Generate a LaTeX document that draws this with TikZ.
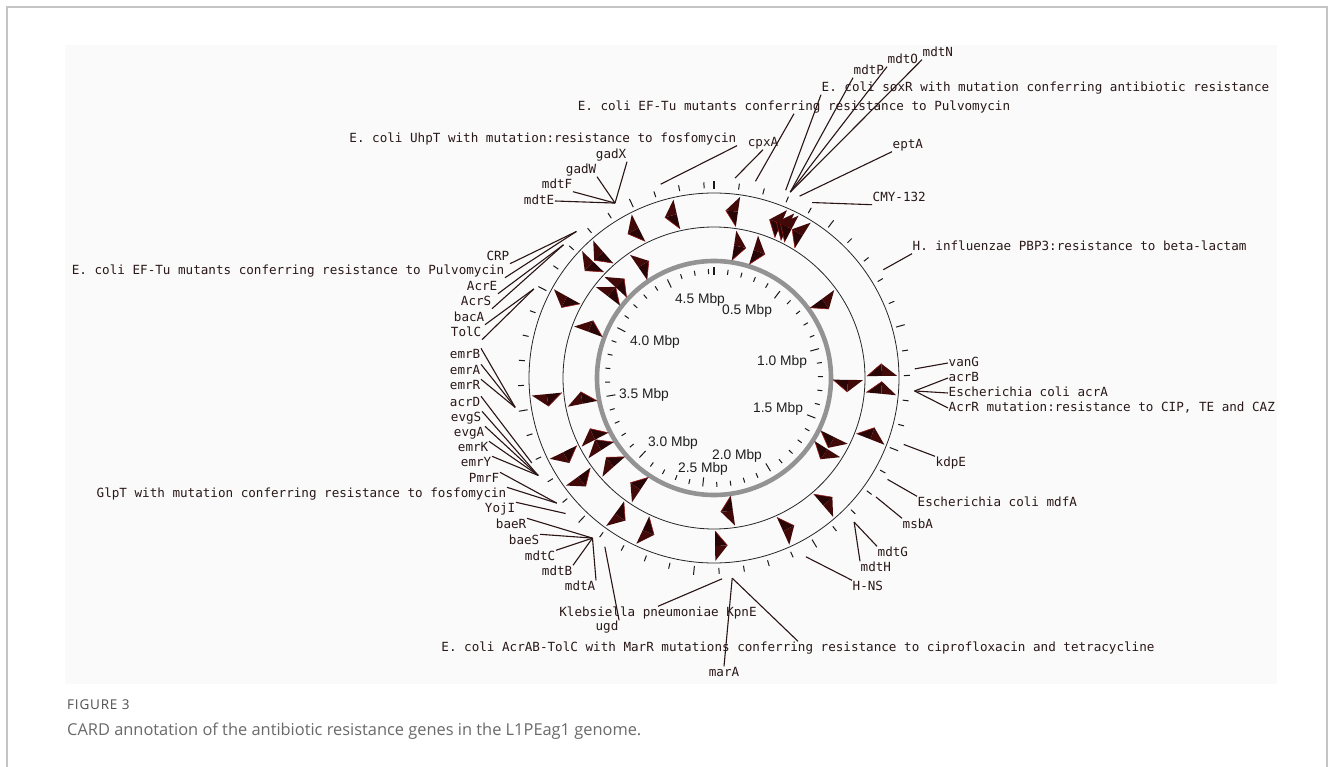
\documentclass[tikz,border=0pt]{standalone}
\usepackage{fontspec}
\newfontfamily\labmono{DejaVu Sans Mono}
\newfontfamily\helv{Liberation Sans}
\newfontfamily\capsans{Open Sans}
\newfontfamily\capsansls[LetterSpace=6]{Open Sans}
\definecolor{labc}{HTML}{2A1818}
\definecolor{leadc}{HTML}{2A1414}
\definecolor{mkdark}{HTML}{2A0505}
\definecolor{mkmid}{HTML}{420909}
\definecolor{mkred}{HTML}{9A1A1A}
\definecolor{bgc}{HTML}{FAFAFA}
\definecolor{framec}{HTML}{C4C4C4}
\definecolor{capc}{HTML}{6A6A6A}
\definecolor{figc}{HTML}{505050}
\definecolor{ringgray}{HTML}{939393}
\newcommand\mkout[1]{%
  \fill[mkdark] (#1-88:153) -- (#1-88:168) -- (#1-92.2:168) -- cycle;
  \fill[mkmid] (#1-88:168) -- (#1-88:183) -- (#1-92.2:168) -- cycle;
  \draw[mkred, line width=0.6pt] (#1-88:153) -- (#1-92.2:168);}
\newcommand\mkin[1]{%
  \fill[mkdark] (#1-92.6:119) -- (#1-92.6:134) -- (#1-87.4:134) -- cycle;
  \fill[mkmid] (#1-92.6:134) -- (#1-92.6:149) -- (#1-87.4:134) -- cycle;
  \draw[mkred, line width=0.6pt] (#1-92.6:119) -- (#1-87.4:134);}
\begin{document}
\begin{tikzpicture}[x=1pt,y=-1pt,
  lab/.style={font=\labmono\fontsize{12.6}{14}\selectfont, text=labc, inner sep=0.5pt, text height=9.5pt, text depth=2.5pt},
  lead/.style={draw=leadc, line width=1.1pt},
  mbp/.style={font=\helv\fontsize{13.8}{15}\selectfont, text=black!88, inner sep=0pt},
  tick/.style={draw=black!90, line width=1pt},
  ring/.style={draw=black!85, line width=0.8pt}]
\useasboundingbox (0,0) rectangle (1333,767);
\fill[white] (0,0) rectangle (1333,767);
\draw[framec, line width=1.2pt] (7,800) -- (7,7) -- (1327,7) -- (1327,800);
\fill[bgc] (65,45) rectangle (1277,684);
\coordinate (C) at (714,378);
% rings, ticks and gene markers
\begin{scope}[shift={(714,378)}]
  \draw[ringgray, line width=4.6pt] (0,0) circle[radius=117];
  \draw[ring] (0,0) circle[radius=151];
  \draw[ring] (0,0) circle[radius=185];
  \foreach \i in {1,...,48} {
    \pgfmathsetmacro\a{\i*7.438-90}
    \pgfmathtruncatemacro\m{mod(\i,5)}
    \ifnum\m=0
      \draw[tick] (\a:100) -- (\a:109);
      \draw[tick] (\a:189) -- (\a:198);
    \else
      \draw[tick] (\a:104) -- (\a:109);
      \draw[tick] (\a:190) -- (\a:196);
    \fi
  }
  \draw[tick, line width=2.4pt] (-90:103) -- (-90:111);
  \draw[tick, line width=2.4pt] (-90:189) -- (-90:197);
  \foreach \t in {-14.8,6.2,21.5,24,25.5,29.9,-28.7,-43.3,-48.1,-63,-97.5,-118.2,-128,-145.9,-156.9,177.6,153.7,137.4,109.4,87.3,93.4} {\mkout{\t}}
  \foreach \t in {11.2,19.8,-31.7,-44.7,-49.8,-67.2,-98.5,-114.8,-120,-128.9,-144,174.5,56.4,93.4,118.8,124.7} {\mkin{\t}}
\end{scope}
% scale labels
\node[mbp] (s45) at (700,300) {4.5 Mbp};
\node[mbp] (s05) at (747,311) {0.5 Mbp};
\node[mbp] (s40) at (655,342) {4.0 Mbp};
\node[mbp] (s10) at (782,362) {1.0 Mbp};
\node[mbp] (s35) at (644,395) {3.5 Mbp};
\node[mbp] (s15) at (778,409) {1.5 Mbp};
\node[mbp] (s30) at (673,443) {3.0 Mbp};
\node[mbp] (s20) at (737,456) {2.0 Mbp};
\node[mbp] (s25) at (703,469) {2.5 Mbp};
% ring end points of leaders
\path (C) ++(-2.6:201) coordinate (rVan);
\path (C) ++(3.7:201) coordinate (rAcr);
\path (C) ++(19.3:201) coordinate (rKdp);
\path (C) ++(30.3:201) coordinate (rMdf);
\path (C) ++(36.3:201) coordinate (rMsb);
\path (C) ++(45.8:201) coordinate (rMdtGH);
\path (C) ++(62.8:201) coordinate (rHNS);
\path (C) ++(84.8:201) coordinate (rMar);
\path (C) ++(87.7:201) coordinate (rKpn);
\path (C) ++(-237.1:201) coordinate (rUgd);
\path (C) ++(-232.8:201) coordinate (rBae);
\path (C) ++(-222.4:201) coordinate (rYoj);
\path (C) ++(-218.5:201) coordinate (rGlp);
\path (C) ++(-209:201) coordinate (rEvg);
\path (C) ++(-205:201) coordinate (rAcrD);
\path (C) ++(-188.4:201) coordinate (rEmr);
\path (C) ++(-153.7:201) coordinate (rBac);
\path (C) ++(-138.5:201) coordinate (rAcrES);
\path (C) ++(-133.2:201) coordinate (rCrp);
\path (C) ++(-119.5:201) coordinate (rGad);
\path (C) ++(-105.4:201) coordinate (rUhp);
\path (C) ++(-84:201) coordinate (rCpx);
\path (C) ++(-78.1:201) coordinate (rEF);
\path (C) ++(-69.1:201) coordinate (rSox);
\path (C) ++(-67.7:201) coordinate (rNOP);
\path (C) ++(-64.8:201) coordinate (rEpt);
\path (C) ++(-60.8:201) coordinate (rCmy);
\path (C) ++(-32.6:201) coordinate (rHinf);
% right labels
\node[lab, anchor=west] (vanG) at (948,363) {vanG};
\node[lab, anchor=west] (acrB) at (948,378) {acrB};
\node[lab, anchor=west] (acrA) at (948,393) {Escherichia coli acrA};
\node[lab, anchor=west] (acrR) at (948,408) {AcrR mutation:resistance to CIP, TE and CAZ};
\node[lab, anchor=west] (kdpE) at (935,463) {kdpE};
\node[lab, anchor=west] (mdfA) at (917,503) {Escherichia coli mdfA};
\node[lab, anchor=west] (msbA) at (902,525) {msbA};
\node[lab, anchor=west] (mdtG) at (877,553) {mdtG};
\node[lab, anchor=west] (mdtH) at (860,568) {mdtH};
\node[lab, anchor=west] (hns) at (852,587) {H-NS};
\draw[lead] (vanG.west) -- (rVan);
\draw[lead] (acrB.west) -- (rAcr);
\draw[lead] (acrA.west) -- (rAcr);
\draw[lead] (acrR.west) -- (rAcr);
\draw[lead] (kdpE.north west) -- (rKdp);
\draw[lead] (mdfA.north west) -- (rMdf);
\draw[lead] (msbA.north west) -- (rMsb);
\draw[lead] (mdtG.north west) -- (rMdtGH);
\draw[lead] (mdtH.north west) -- (rMdtGH);
\draw[lead] (hns.north west) -- (rHNS);
% bottom labels
\node[lab] (marA) at (724,673) {marA};
\node[lab] (acrAB) at (798,648) {E. coli AcrAB-TolC with MarR mutations conferring resistance to ciprofloxacin and tetracycline};
\node[lab] (kpnE) at (658,613) {Klebsiella pneumoniae KpnE};
\node[lab] (ugd) at (607,627) {ugd};
\draw[lead] (marA.north) -- (rMar);
\draw[lead] (acrAB.north) -- (rMar);
\draw[lead] (kpnE.north) -- (rKpn);
\draw[lead] (ugd.north east) -- (rUgd);
% lower left labels
\node[lab, anchor=east] (mdtA) at (596,587) {mdtA};
\node[lab, anchor=east] (mdtB) at (573,572) {mdtB};
\node[lab, anchor=east] (mdtC) at (556,557) {mdtC};
\node[lab, anchor=east] (baeS) at (540,541) {baeS};
\node[lab, anchor=east] (baeR) at (527,525) {baeR};
\node[lab, anchor=east] (yojI) at (516,509) {YojI};
\node[lab, anchor=east] (glpT) at (507,494) {GlpT with mutation conferring resistance to fosfomycin};
\node[lab, anchor=east] (pmrF) at (500,479) {PmrF};
\node[lab, anchor=east] (emrY) at (492,463) {emrY};
\node[lab, anchor=east] (emrK) at (489,448) {emrK};
\node[lab, anchor=east] (evgA) at (485,433) {evgA};
\node[lab, anchor=east] (evgS) at (482,418) {evgS};
\node[lab, anchor=east] (acrD) at (481,403) {acrD};
\node[lab, anchor=east] (emrR) at (481,386) {emrR};
\node[lab, anchor=east] (emrA) at (481,371) {emrA};
\node[lab, anchor=east] (emrB) at (481,355) {emrB};
\foreach \n in {mdtA,mdtB,mdtC,baeS,baeR} {\draw[lead] (\n.north east) -- (rBae);}
\draw[lead] (yojI.north east) -- (rYoj);
\draw[lead] (glpT.north east) -- (rGlp);
\draw[lead] (pmrF.north east) -- (rGlp);
\foreach \n in {emrY,emrK,evgA,evgS} {\draw[lead] (\n.north east) -- (rEvg);}
\draw[lead] (acrD.north east) -- (rAcrD);
\foreach \n in {emrR,emrA,emrB} {\draw[lead] (\n.north east) -- (rEmr);}
% upper left labels
\node[lab, anchor=east] (tolC) at (482,333) {TolC};
\node[lab, anchor=east] (bacA) at (485,318) {bacA};
\node[lab, anchor=east] (acrS) at (492,302) {AcrS};
\node[lab, anchor=east] (acrE) at (498,287) {AcrE};
\node[lab, anchor=east] (efL) at (505,271) {E. coli EF-Tu mutants conferring resistance to Pulvomycin};
\node[lab, anchor=east] (crp) at (510,257) {CRP};
\node[lab, anchor=east] (mdtE) at (555,201) {mdtE};
\node[lab, anchor=east] (mdtF) at (573,185) {mdtF};
\node[lab, anchor=east] (gadW) at (597,170) {gadW};
\node[lab, anchor=east] (gadX) at (627,155) {gadX};
\node[lab, anchor=east] (uhpT) at (737,139) {E. coli UhpT with mutation:resistance to fosfomycin};
\draw[lead] (tolC.south east) -- (rBac);
\draw[lead] (bacA.south east) -- (rBac);
\draw[lead] (acrS.south east) -- (rAcrES);
\draw[lead] (acrE.south east) -- (rAcrES);
\draw[lead] (efL.south east) -- (rCrp);
\draw[lead] (crp.south east) -- (rCrp);
\draw[lead] (mdtE.east) -- (rGad);
\draw[lead] (mdtF.south east) -- (rGad);
\draw[lead] (gadW.south east) -- (rGad);
\draw[lead] (gadX.south east) -- (rGad);
\draw[lead] (uhpT.south east) -- (rUhp);
% top labels
\node[lab] (cpxA) at (763,143) {cpxA};
\node[lab] (efT) at (794,107) {E. coli EF-Tu mutants conferring resistance to Pulvomycin};
\node[lab, anchor=west] (soxR) at (821,88) {E. coli soxR with mutation conferring antibiotic resistance};
\node[lab, anchor=west] (mdtP) at (853,71) {mdtP};
\node[lab, anchor=west] (mdtO) at (887,60) {mdtO};
\node[lab, anchor=west] (mdtN) at (922,53) {mdtN};
\node[lab, anchor=west] (eptA) at (892,145) {eptA};
\node[lab, anchor=west] (cmy) at (872,198) {CMY-132};
\node[lab, anchor=west] (hinf) at (912,247) {H. influenzae PBP3:resistance to beta-lactam};
\draw[lead] (cpxA.south) -- (rCpx);
\draw[lead] (efT.south) -- (rEF);
\draw[lead] (soxR.south west) -- (rSox);
\draw[lead] (mdtP.south west) -- (rNOP);
\draw[lead] (mdtO.south west) -- (rNOP);
\draw[lead] (mdtN.south west) -- (rNOP);
\draw[lead] (eptA.south west) -- (rEpt);
\draw[lead] (cmy.south west) -- (rCmy);
\draw[lead] (hinf.south west) -- (rHinf);
% caption
\node[anchor=west, inner sep=0pt, font=\capsansls\fontsize{13.5}{15}\selectfont, text=figc] (fig) at (67,705) {FIGURE 3};
\node[anchor=west, inner sep=0pt, font=\capsans\fontsize{16.4}{19}\selectfont, text=capc] (cap) at (67,731) {CARD annotation of the antibiotic resistance genes in the L1PEag1 genome.};
\end{tikzpicture}
\end{document}
